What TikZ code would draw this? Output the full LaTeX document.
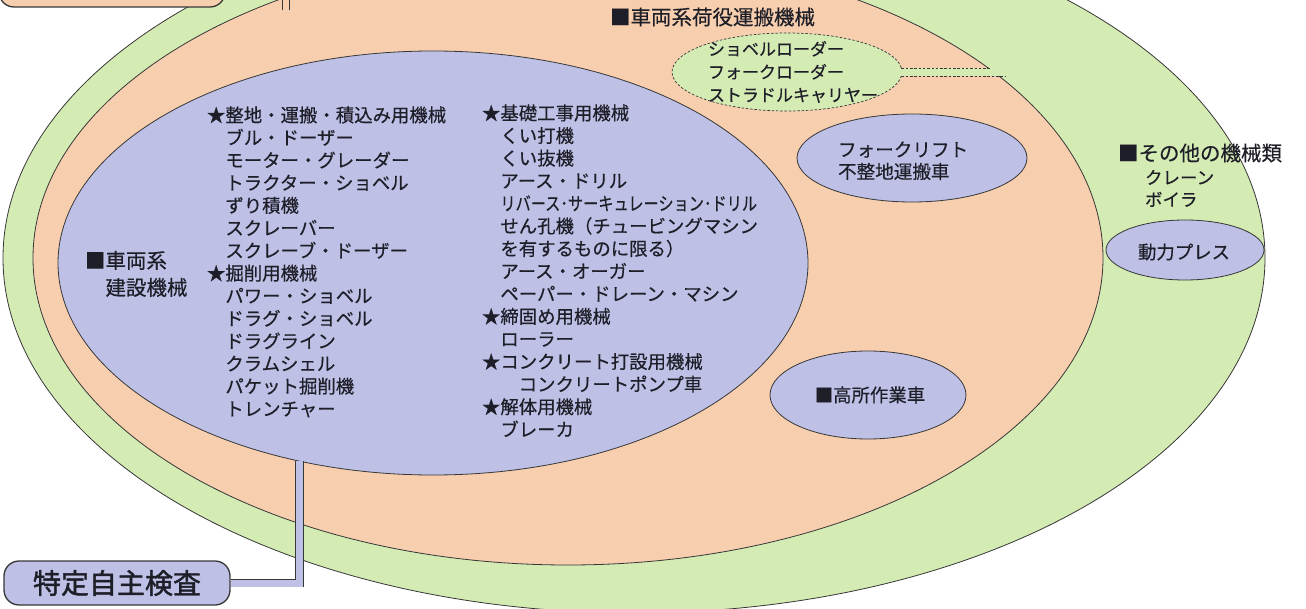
\documentclass[tikz,border=0pt]{standalone}
\usepackage{fontspec}
\setmainfont{Noto Sans CJK JP}[FakeBold=0.35]
\newfontfamily\jpheavy{Noto Sans CJK JP}[FakeBold=1.4]
\usepackage{graphicx}
\usetikzlibrary{shapes.geometric,calc}
\definecolor{grn}{RGB}{212,235,180}
\definecolor{pch}{RGB}{247,207,174}
\definecolor{lav}{RGB}{190,192,230}
\definecolor{edgec}{RGB}{55,55,55}
\definecolor{ink}{RGB}{30,30,40}
\newcommand{\fntList}{\fontsize{18.4pt}{22.6pt}\selectfont}
\newcommand{\fntHead}{\fontsize{20.5pt}{27pt}\selectfont}
\newcommand{\fntSub}{\fontsize{17pt}{23pt}\selectfont}
\newcommand{\fntFork}{\fontsize{18.6pt}{22pt}\selectfont}
\newcommand{\fntOther}{\fontsize{17.5pt}{22pt}\selectfont}
\newcommand{\fntBig}{\jpheavy\fontsize{28pt}{32pt}\selectfont}
\begin{document}
\begin{tikzpicture}[x=1pt,y=-1pt,
  ring/.style={ellipse, draw=edgec, line width=0.8pt, inner sep=0pt, outer sep=0pt},
  txt/.style={text=ink, inner sep=0pt, outer sep=0pt, align=left},
  dashline/.style={draw=edgec, line width=0.7pt, dash pattern=on 2.5pt off 1.8pt},
  lavbar/.style={draw=edgec, line width=0.7pt, double=lav, double distance=7pt},
  pchbar/.style={draw=edgec, line width=0.7pt, double=pch, double distance=6pt},
  tagbox/.style={rounded corners=15pt, draw=edgec, line width=1.3pt, inner sep=0pt, minimum width=226pt, minimum height=44pt},
]
\useasboundingbox (0,0) rectangle (1306,609);
\clip (0,0) rectangle (1306,609);
% rings
\node[ring, fill=grn, minimum width=1262pt, minimum height=710pt] (outer) at (634,258) {};
\node[ring, fill=pch, minimum width=1070pt, minimum height=614pt] (middle) at (568,258) {};
\node[ring, fill=lav, minimum width=750pt, minimum height=424pt] (inner) at (433,263) {};
% loader ellipse and channel
\node[ring, fill=grn, line width=0.7pt, dash pattern=on 2.5pt off 1.8pt, minimum width=230pt, minimum height=78pt] (loader) at (787,72) {};
\fill[grn] ($(loader.2)+(-3,0)$) rectangle ($(loader.-2 -| middle.22.9)+(3,0)$);
\draw[dashline] (loader.2) -- (loader.2 -| middle.24.3);
\draw[dashline] (loader.-2) -- (loader.-2 -| middle.22.9);
% small ellipses
\node[ring, fill=lav, minimum width=230pt, minimum height=88pt] (fork) at (912,158) {};
\node[ring, fill=lav, minimum width=196pt, minimum height=88pt] (aerial) at (868,395) {};
\node[ring, fill=lav, minimum width=158pt, minimum height=60pt] (press) at (1185,250) {};
% texts
\node[txt, font=\fntHead, anchor=west] (tHandling) at (610,17) {■車両系荷役運搬機械};
\node[txt, font=\fntSub, anchor=north west] (tLoader) at (708,41) {ショベルローダー\\フォークローダー\\ストラドルキャリヤー};
\node[txt, font=\fntFork, anchor=north west] (tFork) at (838,141.5) {フォークリフト\\不整地運搬車};
\node[txt, font=\fntList] (tAerial) at (870,395) {■高所作業車};
\node[txt, font=\fntList] (tPress) at (1184,252) {動力プレス};
\node[txt, font=\fntHead, anchor=west] (tOther) at (1118,153) {■その他の機械類};
\node[txt, font=\fntOther, anchor=north west] (tOtherList) at (1145,170) {クレーン\\ボイラ};
\node[txt, font=\fntHead, anchor=north west] (tVehicle) at (85,251) {■車両系\\　建設機械};
\node[txt, font=\fntList, anchor=north west] (colA) at (207,106.5) {★整地・運搬・積込み用機械\\
　ブル・ドーザー\\
　モーター・グレーダー\\
　トラクター・ショベル\\
　ずり積機\\
　スクレーバー\\
　スクレーブ・ドーザー\\
★掘削用機械\\
　パワー・ショベル\\
　ドラグ・ショベル\\
　ドラグライン\\
　クラムシェル\\
　パケット掘削機\\
　トレンチャー};
\node[txt, font=\fntList, anchor=north west] (colB) at (482,104.5) {★基礎工事用機械\\
　くい打機\\
　くい抜機\\
　アース・ドリル\\
　\scalebox{0.825}[1]{リバース･サーキュレーション･ドリル}\\
　せん孔機（チュービングマシン\\
　を有するものに限る）\\
　アース・オーガー\\
　ペーパー・ドレーン・マシン\\
★締固め用機械\\
　ローラー\\
★コンクリート打設用機械\\
　　コンクリートポンプ車\\
★解体用機械\\
　ブレーカ};
% label boxes and bars
\node[tagbox, fill=lav, text=ink, font=\fntBig] (inspect) at (117,583) {特定自主検査};
\draw[lavbar] (inspect.east) -| (inner.236);
\node[tagbox, fill=pch, minimum height=60pt] (topbox) at (112,-23) {};
\coordinate (topend) at (286,10);
\draw[pchbar] (topbox.east) -| (topend);
\end{tikzpicture}
\end{document}
